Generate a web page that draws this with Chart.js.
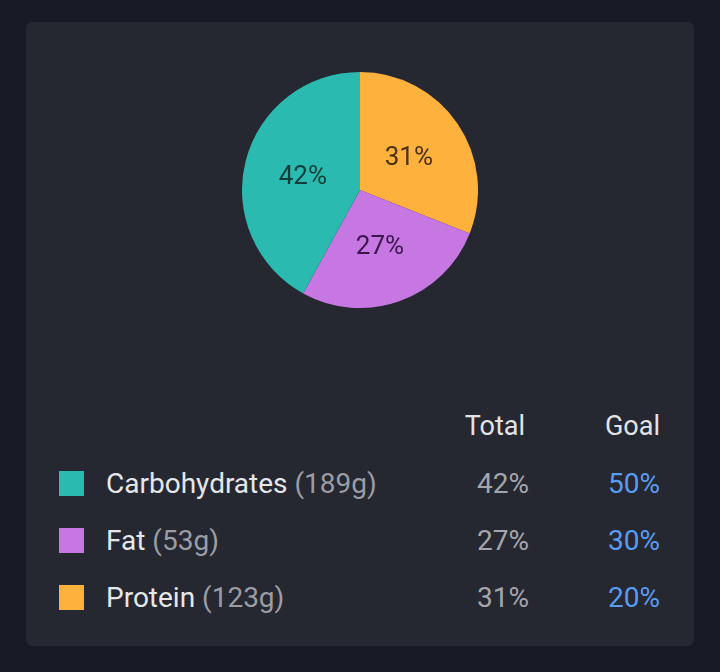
<!DOCTYPE html>
<html>
<head>
<meta charset="utf-8">
<script src="https://cdn.jsdelivr.net/npm/chart.js@4"></script>
<style>
  html, body { margin: 0; padding: 0; }
  body { width: 720px; height: 672px; background: #181a25; font-family: Roboto, "Noto Sans", sans-serif; overflow: hidden; }
  #card { position: absolute; left: 26px; top: 22px; width: 668px; height: 624px; background: #252731; border-radius: 6px; }
  #pieBox { position: absolute; left: 216px; top: 50px; width: 236px; height: 236px; }
  #tabla { position: absolute; left: 0; top: 376px; width: 668px; }
  .fila { position: relative; height: 57px; line-height: 57px; font-size: 28px; }
  .cuadro { position: absolute; left: 33px; top: 16px; width: 25px; height: 25px; }
  .nombre { position: absolute; left: 80px; color: #e6e7ea; }
  .nombre span { color: #9b9da5; }
  .total { position: absolute; right: 165px; color: #a4a6ad; }
  .goal { position: absolute; right: 34px; color: #5a9cf0; }
  .cab { color: #e2e3e6; font-size: 27px; }
  .total.cab { right: 169px; }
</style>
</head>
<body>
<div id="card">
  <div id="pieBox"><canvas id="myChart"></canvas></div>
  <div id="tabla"></div>
</div>
<script>
const labels = ['Carbohydrates', 'Fat', 'Protein'];
const grams = [189, 53, 123];
const totalPct = [42, 27, 31];
const goalPct = [50, 30, 20];
const colors = ['#2bbab0', '#c777e2', '#ffb13d'];
const textColors = ['#0f3d39', '#3b1450', '#4a3110'];

// tabla de abajo
const tabla = document.getElementById('tabla');
let html = '<div class="fila"><span class="total cab">Total</span><span class="goal cab">Goal</span></div>';
labels.forEach((nombre, i) => {
  html += '<div class="fila">' +
    '<div class="cuadro" style="background:' + colors[i] + '"></div>' +
    '<span class="nombre">' + nombre + ' <span>(' + grams[i] + 'g)</span></span>' +
    '<span class="total">' + totalPct[i] + '%</span>' +
    '<span class="goal">' + goalPct[i] + '%</span>' +
    '</div>';
});
tabla.innerHTML = html;

// el pastel va al reves: Protein, Fat, Carbohydrates en sentido horario
const orden = [2, 1, 0];

const etiquetas = {
  id: 'etiquetas',
  afterDatasetsDraw(chart) {
    const { ctx } = chart;
    const meta = chart.getDatasetMeta(0);
    ctx.save();
    ctx.font = '26px Roboto';
    ctx.textAlign = 'center';
    ctx.textBaseline = 'middle';
    meta.data.forEach((arc, i) => {
      const p = arc.tooltipPosition();
      ctx.fillStyle = textColors[orden[i]];
      ctx.fillText(chart.data.datasets[0].data[i] + '%', p.x, p.y + 2);
    });
    ctx.restore();
  }
};

new Chart(document.getElementById('myChart'), {
  type: 'pie',
  data: {
    labels: orden.map(i => labels[i]),
    datasets: [{
      data: orden.map(i => totalPct[i]),
      backgroundColor: orden.map(i => colors[i]),
      borderWidth: 0
    }]
  },
  options: {
    responsive: true,
    maintainAspectRatio: false,
    animation: false,
    layout: { padding: 0 },
    plugins: {
      legend: { display: false },
      tooltip: { enabled: false }
    }
  },
  plugins: [etiquetas]
});
</script>
</body>
</html>
